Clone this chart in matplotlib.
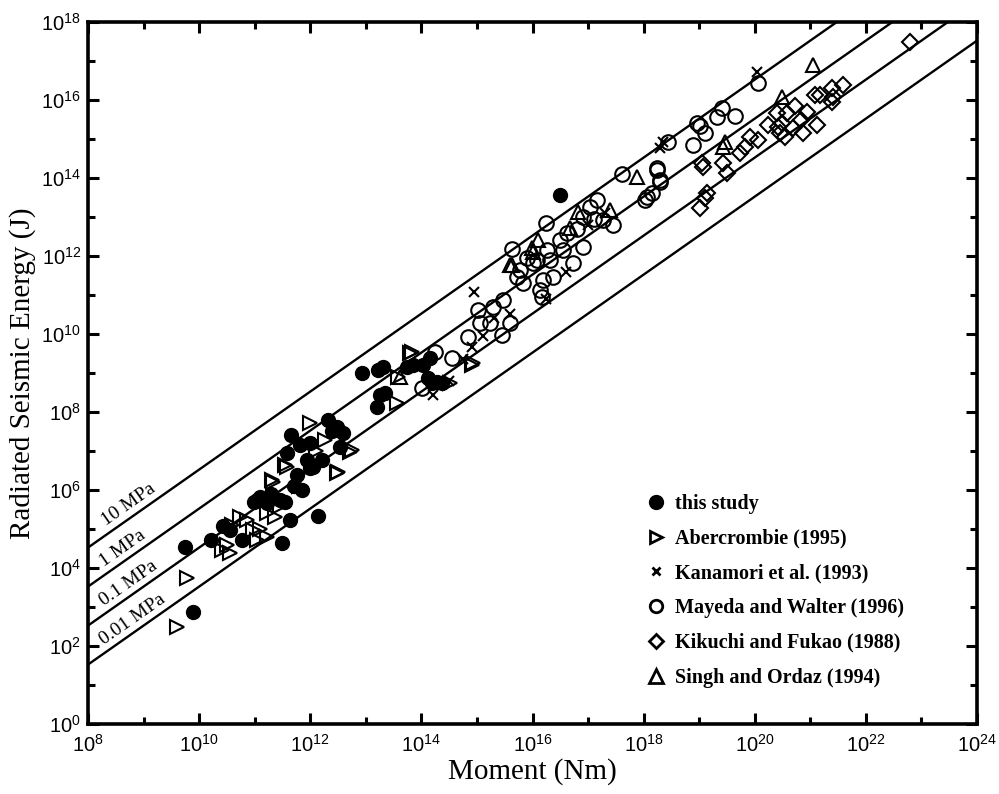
import numpy as np
import matplotlib
matplotlib.use("Agg")
import matplotlib.pyplot as plt
from matplotlib.ticker import FixedLocator, FuncFormatter, NullFormatter
from matplotlib.lines import Line2D

# ---- data: log10 seismic moment (Nm) and log10 radiated energy (J) ----
this_study_logM = [9.75, 9.89, 10.21, 10.43, 10.56, 10.77, 10.98, 11.10, 11.22, 11.46,
                   11.55, 11.49, 11.64, 11.85, 12.14, 11.76, 11.99, 11.94, 11.58, 11.65,
                   11.82, 12.00, 12.32, 12.48, 12.59, 12.54, 12.21, 12.93, 13.22, 13.20,
                   13.26, 13.31, 13.74, 13.85, 14.16, 14.03, 14.12, 14.28, 14.37, 14.19,
                   13.35, 16.50, 11.05, 11.30, 11.70, 12.05, 12.40]
this_study_logE = [4.54, 2.87, 4.72, 5.08, 4.97, 4.72, 5.69, 5.82, 5.67, 5.74,
                   5.69, 4.64, 5.23, 6.00, 5.33, 6.38, 6.56, 6.77, 6.95, 7.41,
                   7.15, 7.20, 7.79, 7.62, 7.46, 7.10, 6.77, 9.00, 9.08, 8.13,
                   8.44, 9.15, 9.15, 9.20, 9.38, 9.20, 8.87, 8.77, 8.74, 8.74,
                   8.49, 13.56, 5.75, 5.90, 6.10, 6.60, 7.50]

abercrombie_logM = [9.78, 9.60, 10.41, 10.56, 10.74, 10.86, 10.97, 11.04, 11.22, 11.33,
                    11.55, 11.37, 12.48, 11.31, 11.58, 12.00, 12.27, 12.72, 11.22, 13.83,
                    13.58, 13.56, 12.75, 12.50, 14.52, 14.91, 10.60, 11.10, 11.80, 12.10,
                    13.80, 14.93, 10.50, 11.45]
abercrombie_logE = [3.74, 2.49, 4.46, 4.38, 5.31, 5.23, 4.97, 4.72, 4.79, 6.20,
                    6.64, 5.31, 6.44, 6.26, 6.59, 7.72, 7.28, 6.97, 5.41, 9.54,
                    8.90, 8.23, 7.03, 6.46, 8.74, 9.20, 5.10, 5.00, 6.10, 7.00,
                    9.51, 9.26, 4.60, 5.60]

kanamori_logM = [14.95, 14.91, 14.21, 14.50, 15.10, 15.30, 15.60, 16.25, 16.60, 18.35,
                 18.30, 20.04, 17.30, 17.00, 14.75]
kanamori_logE = [11.08, 9.67, 8.44, 8.80, 9.95, 10.40, 10.50, 10.90, 11.60, 14.92,
                 14.77, 16.72, 13.10, 12.80, 9.35]

mayeda_logM = [15.63, 16.24, 17.61, 18.24, 18.30, 18.06, 17.45, 16.73, 16.37, 16.14,
               16.17, 15.60, 15.45, 15.24, 15.06, 15.02, 14.84, 14.55, 14.25, 14.01,
               15.29, 15.72, 15.78, 16.08, 16.26, 16.50, 16.62, 16.91, 17.04, 17.16,
               17.27, 16.91, 16.55, 16.32, 16.01, 15.83, 15.47, 20.06, 19.41, 19.65,
               19.32, 19.02, 18.96, 19.11, 18.89, 18.44, 18.24, 18.30, 18.15, 18.03,
               16.19, 15.90, 16.80, 17.10]
mayeda_logE = [12.18, 12.85, 14.10, 14.20, 13.90, 13.51, 12.79, 11.82, 11.46, 11.13,
               10.95, 10.28, 9.97, 10.28, 10.28, 10.62, 9.92, 9.38, 9.54, 8.62,
               10.69, 11.46, 11.64, 11.90, 12.15, 12.41, 12.59, 13.00, 13.26, 13.44,
               12.92, 12.23, 12.15, 11.90, 11.82, 11.31, 10.87, 16.44, 15.79, 15.59,
               15.56, 15.33, 15.41, 15.15, 14.85, 14.92, 14.26, 13.95, 13.62, 13.44,
               11.38, 11.95, 12.70, 12.95]

kikuchi_logM = [22.80, 19.05, 19.07, 19.02, 19.11, 19.14, 19.43, 19.50, 19.74, 19.82,
                19.92, 20.06, 20.24, 20.40, 20.42, 20.49, 20.55, 20.69, 20.72, 20.87,
                20.84, 20.94, 21.12, 21.09, 21.17, 21.39, 21.39, 21.41, 21.59, 20.58,
                20.46]
kikuchi_logE = [17.49, 14.38, 14.28, 13.23, 13.49, 13.62, 14.38, 14.13, 14.64, 14.79,
                15.05, 14.97, 15.36, 15.67, 15.31, 15.41, 15.05, 15.28, 15.85, 15.15,
                15.49, 15.69, 15.36, 16.13, 16.13, 15.95, 16.31, 16.08, 16.38, 15.67,
                15.15]

singh_logM = [21.05, 20.49, 19.46, 19.43, 17.88, 16.82, 16.01, 15.60, 15.63, 15.99,
              16.10, 16.68, 17.40, 13.62]
singh_logE = [16.90, 16.08, 14.92, 14.80, 14.03, 13.13, 12.10, 11.77, 11.77, 12.21,
              12.41, 12.72, 13.18, 8.90]

# constant stress-drop lines: E = (stress drop / rigidity) * M0
stress_drops_MPa = [10, 1, 0.1, 0.01]
stress_labels = ["10 MPa", "1 MPa", "0.1 MPa", "0.01 MPa"]
label_logM = [8.86, 8.74, 8.86, 8.93]
rigidity = 3.0e10

serif = "Liberation Serif"
sans = "Liberation Sans"
plt.rcParams["mathtext.default"] = "regular"

fig = plt.figure(figsize=(9.99, 7.94), dpi=100)
ax = fig.add_axes([0.0881, 0.0882, 0.8899, 0.8841])
ax.set_xscale("log")
ax.set_yscale("log")
ax.set_xlim(1e8, 1e24)
ax.set_ylim(1e0, 1e18)

# stress-drop reference lines
m_line = np.logspace(8, 24, 200)
for ds in stress_drops_MPa:
    ax.plot(m_line, ds * 1e6 / rigidity * m_line, color="black", lw=1.7, zorder=1)

# line labels, rotated along the lines
p0 = ax.transData.transform((1e10, 1e10))
p1 = ax.transData.transform((1e12, 1e12))
angle = np.degrees(np.arctan2(p1[1] - p0[1], p1[0] - p0[0]))
for ds, txt, lm in zip(stress_drops_MPa, stress_labels, label_logM):
    xm = 10 ** lm
    ym = ds * 1e6 / rigidity * xm
    ax.annotate(txt, (xm, ym), xytext=(-1.5, 1.5), textcoords="offset points",
                rotation=angle, rotation_mode="anchor", ha="center", va="bottom",
                fontsize=14, family=serif, zorder=3)

def to_vals(lm, le):
    return 10 ** np.asarray(lm), 10 ** np.asarray(le)

ms_open = 10.5
mew = 1.5
x, y = to_vals(abercrombie_logM, abercrombie_logE)
ax.plot(x, y, ls="none", marker=">", ms=ms_open, mfc="none", mec="black", mew=mew, zorder=4)
x, y = to_vals(kanamori_logM, kanamori_logE)
ax.plot(x, y, ls="none", marker="x", ms=7, mec="black", mew=1.5, zorder=4)
x, y = to_vals(mayeda_logM, mayeda_logE)
ax.plot(x, y, ls="none", marker="o", ms=ms_open, mfc="none", mec="black", mew=mew, zorder=4)
x, y = to_vals(kikuchi_logM, kikuchi_logE)
ax.plot(x, y, ls="none", marker="D", ms=8.5, mfc="none", mec="black", mew=mew, zorder=4)
x, y = to_vals(singh_logM, singh_logE)
ax.plot(x, y, ls="none", marker="^", ms=ms_open, mfc="none", mec="black", mew=mew, zorder=4)
x, y = to_vals(this_study_logM, this_study_logE)
ax.plot(x, y, ls="none", marker="o", ms=10, mfc="black", mec="black", zorder=5)

# axes styling
for sp in ax.spines.values():
    sp.set_linewidth(2.6)
ax.xaxis.set_major_locator(FixedLocator([10.0 ** k for k in range(8, 25, 2)]))
ax.xaxis.set_minor_locator(FixedLocator([10.0 ** k for k in range(9, 24, 2)]))
ax.yaxis.set_major_locator(FixedLocator([10.0 ** k for k in range(0, 19, 2)]))
ax.yaxis.set_minor_locator(FixedLocator([10.0 ** k for k in range(1, 18, 2)]))
fmt = FuncFormatter(lambda v, p: r"$10^{%d}$" % int(round(np.log10(v))))
ax.xaxis.set_major_formatter(fmt)
ax.yaxis.set_major_formatter(fmt)
ax.xaxis.set_minor_formatter(NullFormatter())
ax.yaxis.set_minor_formatter(NullFormatter())
ax.tick_params(which="both", direction="in", top=True, right=True, width=2.2)
ax.tick_params(which="major", length=8, labelsize=14.5)
ax.tick_params(which="minor", length=5)
ax.tick_params(axis="x", pad=7)
ax.tick_params(axis="y", pad=5)
for lab in ax.get_xticklabels() + ax.get_yticklabels():
    lab.set_family(sans)

ax.set_xlabel("Moment (Nm)", fontsize=21, family=serif, labelpad=2)
ax.set_ylabel("Radiated Seismic Energy (J)", fontsize=21, family=serif, labelpad=4)

handles = [
    Line2D([], [], ls="none", marker="o", ms=10, mfc="black", mec="black"),
    Line2D([], [], ls="none", marker=">", ms=9, mfc="none", mec="black", mew=2),
    Line2D([], [], ls="none", marker="x", ms=6, mec="black", mew=2),
    Line2D([], [], ls="none", marker="o", ms=9, mfc="none", mec="black", mew=2),
    Line2D([], [], ls="none", marker="D", ms=7.5, mfc="none", mec="black", mew=2),
    Line2D([], [], ls="none", marker="^", ms=9.5, mfc="none", mec="black", mew=2),
]
names = ["this study", "Abercrombie (1995)", "Kanamori et al. (1993)",
         "Mayeda and Walter (1996)", "Kikuchi and Fukao (1988)", "Singh and Ordaz (1994)"]
leg = ax.legend(handles, names, loc="upper left", bbox_to_anchor=(0.618, 0.339),
                frameon=False, handlelength=1.0, handletextpad=0.45,
                labelspacing=0.73, borderaxespad=0,
                prop={"family": serif, "weight": "bold", "size": 14.5})

fig.savefig("out.png", dpi=100)
